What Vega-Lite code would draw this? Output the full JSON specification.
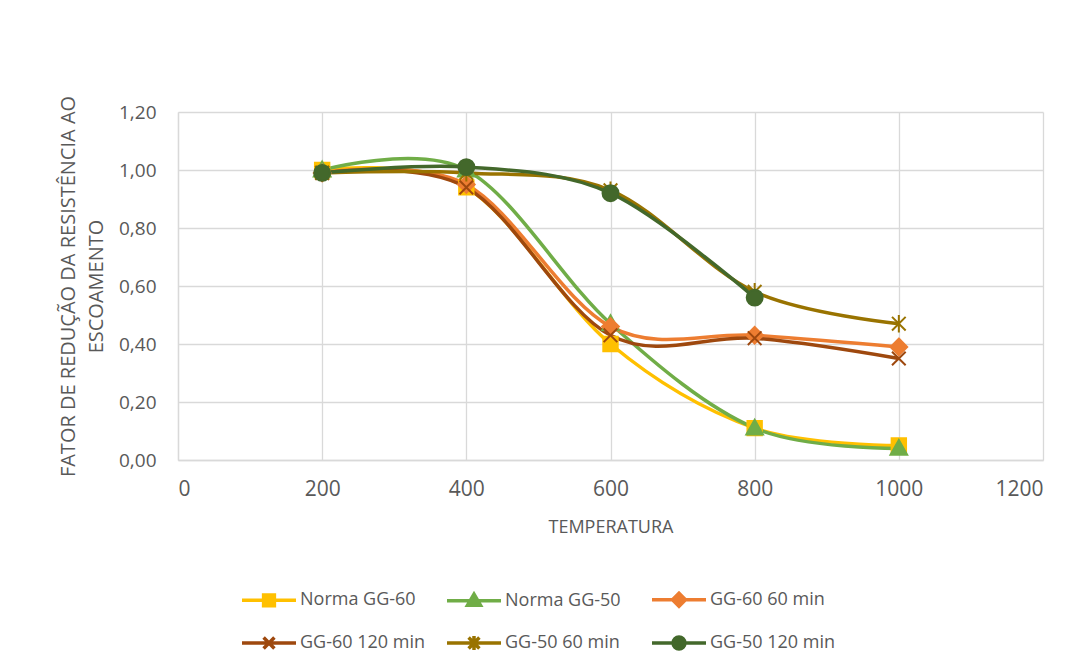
{
  "$schema": "https://vega.github.io/schema/vega-lite/v6.json",
  "autosize": {"type": "none"},
  "width": 865,
  "height": 348,
  "padding": {"left": 178, "top": 112, "right": 38, "bottom": 209},
  "background": "white",
  "data": {
    "values": [
      {"series": "Norma GG-60", "temp": 200, "value": 1.00},
      {"series": "Norma GG-60", "temp": 400, "value": 0.94},
      {"series": "Norma GG-60", "temp": 600, "value": 0.40},
      {"series": "Norma GG-60", "temp": 800, "value": 0.11},
      {"series": "Norma GG-60", "temp": 1000, "value": 0.05},
      {"series": "Norma GG-50", "temp": 200, "value": 1.00},
      {"series": "Norma GG-50", "temp": 400, "value": 1.00},
      {"series": "Norma GG-50", "temp": 600, "value": 0.47},
      {"series": "Norma GG-50", "temp": 800, "value": 0.11},
      {"series": "Norma GG-50", "temp": 1000, "value": 0.04},
      {"series": "GG-60 60 min", "temp": 200, "value": 0.99},
      {"series": "GG-60 60 min", "temp": 400, "value": 0.95},
      {"series": "GG-60 60 min", "temp": 600, "value": 0.46},
      {"series": "GG-60 60 min", "temp": 800, "value": 0.43},
      {"series": "GG-60 60 min", "temp": 1000, "value": 0.39},
      {"series": "GG-60 120 min", "temp": 200, "value": 0.99},
      {"series": "GG-60 120 min", "temp": 400, "value": 0.94},
      {"series": "GG-60 120 min", "temp": 600, "value": 0.43},
      {"series": "GG-60 120 min", "temp": 800, "value": 0.42},
      {"series": "GG-60 120 min", "temp": 1000, "value": 0.35},
      {"series": "GG-50 60 min", "temp": 200, "value": 0.99},
      {"series": "GG-50 60 min", "temp": 400, "value": 0.99},
      {"series": "GG-50 60 min", "temp": 600, "value": 0.93},
      {"series": "GG-50 60 min", "temp": 800, "value": 0.58},
      {"series": "GG-50 60 min", "temp": 1000, "value": 0.47},
      {"series": "GG-50 120 min", "temp": 200, "value": 0.99},
      {"series": "GG-50 120 min", "temp": 400, "value": 1.01},
      {"series": "GG-50 120 min", "temp": 600, "value": 0.92},
      {"series": "GG-50 120 min", "temp": 800, "value": 0.56}
    ]
  },
  "encoding": {
    "x": {
      "field": "temp",
      "type": "quantitative",
      "title": "TEMPERATURA",
      "scale": {"domain": [0, 1200], "nice": false, "zero": true},
      "axis": {
        "values": [0, 200, 400, 600, 800, 1000, 1200],
        "format": "d",
        "labelFontSize": 21,
        "labelPadding": 18,
        "titlePadding": 19
      }
    },
    "y": {
      "field": "value",
      "type": "quantitative",
      "title": ["FATOR DE REDUÇÃO DA RESISTÊNCIA AO", "ESCOAMENTO"],
      "scale": {"domain": [0, 1.2], "nice": false},
      "axis": {
        "values": [0, 0.2, 0.4, 0.6, 0.8, 1.0, 1.2],
        "labelExpr": "replace(format(datum.value, '.2f'), '.', ',')",
        "labelFontSize": 19,
        "labelPadding": 22,
        "titlePadding": 12,
        "titleFontSize": 20,
        "titleLineHeight": 28
      }
    }
  },
  "layer": [
    {
      "mark": {"type": "line", "interpolate": "cardinal", "strokeWidth": 3.5},
      "encoding": {
        "color": {
          "field": "series",
          "type": "nominal",
          "legend": null,
          "scale": {
            "domain": ["Norma GG-60", "Norma GG-50", "GG-60 60 min", "GG-60 120 min", "GG-50 60 min", "GG-50 120 min"],
            "range": ["#FFC000", "#70AD47", "#ED7D31", "#9E480E", "#997300", "#43682B"]
          }
        }
      }
    },
    {
      "mark": {"type": "point", "filled": true, "opacity": 1, "strokeWidth": 2, "size": 230},
      "encoding": {
        "color": {
          "field": "series",
          "type": "nominal",
          "legend": null,
          "scale": {
            "domain": ["Norma GG-60", "Norma GG-50", "GG-60 60 min", "GG-60 120 min", "GG-50 60 min", "GG-50 120 min"],
            "range": ["#FFC000", "#70AD47", "#ED7D31", "#9E480E", "#997300", "#43682B"]
          }
        },
        "stroke": {
          "field": "series",
          "type": "nominal",
          "legend": null,
          "scale": {
            "domain": ["Norma GG-60", "Norma GG-50", "GG-60 60 min", "GG-60 120 min", "GG-50 60 min", "GG-50 120 min"],
            "range": ["#FFC000", "#70AD47", "#ED7D31", "#9E480E", "#997300", "#43682B"]
          }
        },
        "shape": {
          "field": "series",
          "type": "nominal",
          "legend": null,
          "scale": {
            "domain": ["Norma GG-60", "Norma GG-50", "GG-60 60 min", "GG-60 120 min", "GG-50 60 min", "GG-50 120 min"],
            "range": [
              "M-0.95,-0.95H0.95V0.95H-0.95Z",
              "M0,-1.1L1.1,0.85H-1.1Z",
              "M0,-1.1L1.1,0L0,1.1L-1.1,0Z",
              "M-0.9,-0.9L0.9,0.9M0.9,-0.9L-0.9,0.9",
              "M-0.9,-0.9L0.9,0.9M0.9,-0.9L-0.9,0.9M0,-1.15V1.15",
              "M1.05,0A1.05,1.05 0 1,1 -1.05,0A1.05,1.05 0 1,1 1.05,0Z"
            ]
          }
        }
      }
    },
    {
      "transform": [{"filter": "false"}],
      "mark": {"type": "point", "filled": true, "opacity": 1, "strokeWidth": 3.5},
      "encoding": {
        "color": {
          "field": "series",
          "type": "nominal",
          "legend": {"title": null, "orient": "none", "legendX": 62, "legendY": 458},
          "scale": {
            "domain": ["Norma GG-60", "Norma GG-50", "GG-60 60 min", "GG-60 120 min", "GG-50 60 min", "GG-50 120 min"],
            "range": ["#FFC000", "#70AD47", "#ED7D31", "#9E480E", "#997300", "#43682B"]
          }
        },
        "stroke": {
          "field": "series",
          "type": "nominal",
          "legend": {"title": null, "orient": "none", "legendX": 62, "legendY": 458},
          "scale": {
            "domain": ["Norma GG-60", "Norma GG-50", "GG-60 60 min", "GG-60 120 min", "GG-50 60 min", "GG-50 120 min"],
            "range": ["#FFC000", "#70AD47", "#ED7D31", "#9E480E", "#997300", "#43682B"]
          }
        },
        "shape": {
          "field": "series",
          "type": "nominal",
          "legend": {"title": null, "orient": "none", "legendX": 62, "legendY": 458},
          "scale": {
            "domain": ["Norma GG-60", "Norma GG-50", "GG-60 60 min", "GG-60 120 min", "GG-50 60 min", "GG-50 120 min"],
            "range": [
              "M-1,0H1M-0.2,-0.2H0.2V0.2H-0.2Z",
              "M-1,0H1M0,-0.24L0.24,0.17H-0.24Z",
              "M-1,0H1M0,-0.24L0.24,0L0,0.24L-0.24,0Z",
              "M-1,0H1M-0.2,-0.2L0.2,0.2M0.2,-0.2L-0.2,0.2",
              "M-1,0H1M-0.2,-0.2L0.2,0.2M0.2,-0.2L-0.2,0.2M0,-0.26V0.26",
              "M-1,0H1M0.22,0A0.22,0.22 0 1,1 -0.22,0A0.22,0.22 0 1,1 0.22,0Z"
            ]
          }
        }
      }
    }
  ],
  "resolve": {"scale": {"color": "independent", "stroke": "independent", "shape": "independent"}},
  "config": {
    "view": {"stroke": null},
    "font": "Open Sans",
    "axis": {
      "grid": true,
      "gridColor": "#d9d9d9",
      "gridWidth": 1.3,
      "domainColor": "#d9d9d9",
      "domainWidth": 1.3,
      "ticks": false,
      "labelColor": "#595959",
      "labelFont": "Open Sans",
      "titleColor": "#595959",
      "titleFont": "Open Sans",
      "titleFontSize": 18,
      "titleFontWeight": "normal"
    },
    "legend": {
      "columns": 3,
      "direction": "horizontal",
      "gridAlign": "all",
      "symbolSize": 2916,
      "symbolStrokeWidth": 3.5,
      "labelFont": "Open Sans",
      "labelFontSize": 18,
      "labelColor": "#595959",
      "labelOffset": 2,
      "labelLimit": 300,
      "columnPadding": 14,
      "rowPadding": -12,
      "padding": 0
    }
  }
}
